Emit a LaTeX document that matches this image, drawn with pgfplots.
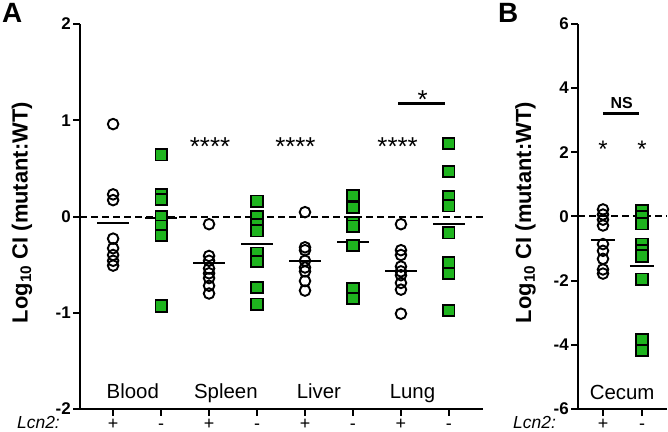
\documentclass[border=0pt]{standalone}
\usepackage{fontspec}
\setmainfont{Liberation Sans}
\usepackage{pgfplots}
\pgfplotsset{compat=1.18}
\definecolor{sqgreen}{RGB}{30,180,30}
\pgfplotsset{
  myaxis/.style={
    scale only axis, anchor=south west, clip=false,
    axis lines=left, axis line style={-, line width=2bp, black},
    tick align=outside, major tick length=7bp,
    tick style={line width=2bp, black},
    yticklabel style={font=\bfseries\fontsize{17}{17}\selectfont, inner xsep=2bp, inner ysep=0pt},
    xticklabel style={font=\fontsize{18}{18}\selectfont, anchor=base, yshift=-13bp},
    ylabel style={font=\bfseries\fontsize{22}{22}\selectfont, anchor=center},
  },
  circ/.style={only marks, mark=o, mark size=5.3bp, mark options={line width=1.9bp, black}},
  sq/.style={only marks, mark=square*, mark size=5.6bp, mark options={line width=1.9bp, draw=black, fill=sqgreen}},
  mean/.style={black, line width=2bp, no marks},
  zline/.style={black, line width=2bp, dash pattern=on 7bp off 4bp, no marks},
}
\begin{document}
\begin{tikzpicture}
\useasboundingbox (0,0) rectangle (668bp,432bp);
% ---------------- Panel A
\begin{axis}[myaxis, at={(80bp,23bp)}, width=403bp, height=385bp,
  xmin=-0.69, xmax=7.71, ymin=-2, ymax=2,
  xtick={0,1,2,3,4,5,6,7}, xticklabels={+,-,+,-,+,-,+,-},
  ytick={-2,-1,0,1,2}, yticklabels={-2,-1,0,1,2},
  ylabel={Log\textsubscript{10} CI (mutant:WT)},
  ylabel style={at={(axis description cs:-0.144,0.51)}},
]
\addplot[zline] coordinates {(-0.69,0) (7.71,0)};
% Lcn2 + (circles)
\addplot[circ] coordinates {
 (0,0.96) (0,0.23) (0,0.17) (0,-0.23) (0,-0.33) (0,-0.40) (0,-0.46) (0,-0.51)
 (2,-0.08) (2,-0.41) (2,-0.46) (2,-0.54) (2,-0.59) (2,-0.64) (2,-0.72) (2,-0.80)
 (4,0.045) (4,-0.32) (4,-0.35) (4,-0.46) (4,-0.53) (4,-0.57) (4,-0.67) (4,-0.77)
 (6,-0.08) (6,-0.35) (6,-0.40) (6,-0.52) (6,-0.57) (6,-0.61) (6,-0.69) (6,-0.76) (6,-1.01)
};
% Lcn2 - (squares)
\addplot[sq] coordinates {
 (1,0.64) (1,0.23) (1,0.18) (1,0.0) (1,-0.10) (1,-0.20) (1,-0.93)
 (3,0.16) (3,0.0) (3,-0.08) (3,-0.15) (3,-0.38) (3,-0.47) (3,-0.74) (3,-0.91)
 (5,0.22) (5,0.09) (5,-0.06) (5,-0.10) (5,-0.30) (5,-0.75) (5,-0.85)
 (7,0.76) (7,0.47) (7,0.21) (7,0.11) (7,-0.17) (7,-0.48) (7,-0.59) (7,-0.98)
};
% means
\addplot[mean] coordinates {(-0.33,-0.07) (0.33,-0.07)};
\addplot[mean] coordinates {(0.67,-0.02) (1.33,-0.02)};
\addplot[mean] coordinates {(1.67,-0.48) (2.33,-0.48)};
\addplot[mean] coordinates {(2.67,-0.29) (3.33,-0.29)};
\addplot[mean] coordinates {(3.67,-0.46) (4.33,-0.46)};
\addplot[mean] coordinates {(4.67,-0.27) (5.33,-0.27)};
\addplot[mean] coordinates {(5.67,-0.57) (6.33,-0.57)};
\addplot[mean] coordinates {(6.67,-0.08) (7.33,-0.08)};
% significance bar
\addplot[black, line width=3bp, no marks] coordinates {(5.94,1.17) (6.92,1.17)};
\node[font=\fontsize{26}{26}\selectfont, anchor=base, inner sep=0] at (axis cs:6.45,1.12) {*};
\node[font=\fontsize{26}{26}\selectfont, anchor=base, inner sep=0] at (axis cs:2.02,0.63) {****};
\node[font=\fontsize{26}{26}\selectfont, anchor=base, inner sep=0] at (axis cs:3.80,0.63) {****};
\node[font=\fontsize{26}{26}\selectfont, anchor=base, inner sep=0] at (axis cs:5.93,0.63) {****};
% categories
\node[font=\fontsize{20.5}{20}\selectfont, anchor=base, inner sep=0] at (axis cs:0.41,-1.896) {Blood};
\node[font=\fontsize{20.5}{20}\selectfont, anchor=base, inner sep=0] at (axis cs:2.35,-1.896) {Spleen};
\node[font=\fontsize{20.5}{20}\selectfont, anchor=base, inner sep=0] at (axis cs:4.29,-1.896) {Liver};
\node[font=\fontsize{20.5}{20}\selectfont, anchor=base, inner sep=0] at (axis cs:6.24,-1.896) {Lung};
\end{axis}
% ---------------- Panel B
\begin{axis}[myaxis, at={(578bp,23bp)}, width=89bp, height=385bp,
  xmin=-0.64, xmax=1.64, ymin=-6, ymax=6,
  xtick={0,1}, xticklabels={+,-},
  ytick={-6,-4,-2,0,2,4,6}, yticklabels={-6,-4,-2,0,2,4,6},
  ylabel={Log\textsubscript{10} CI (mutant:WT)},
  ylabel style={at={(axis description cs:-0.589,0.51)}},
]
\addplot[zline] coordinates {(-0.64,0) (1.64,0)};
\addplot[circ] coordinates {
 (0,0.22) (0,0.06) (0,-0.10) (0,-0.28) (0,-0.86) (0,-1.07) (0,-1.32) (0,-1.65) (0,-1.78)
};
\addplot[sq] coordinates {
 (1,0.19) (1,0.0) (1,-0.23) (1,-0.86) (1,-1.05) (1,-1.23) (1,-1.95) (1,-3.85) (1,-4.17)
};
\addplot[mean] coordinates {(-0.31,-0.73) (0.31,-0.73)};
\addplot[mean] coordinates {(0.69,-1.55) (1.31,-1.55)};
\addplot[black, line width=2.5bp, no marks] coordinates {(0.0,3.21) (0.93,3.21)};
\node[font=\bfseries\fontsize{16}{16}\selectfont, anchor=base, inner sep=0] at (axis cs:0.48,3.38) {NS};
\node[font=\fontsize{24}{24}\selectfont, anchor=base, inner sep=0] at (axis cs:0,1.85) {*};
\node[font=\fontsize{24}{24}\selectfont, anchor=base, inner sep=0] at (axis cs:1,1.85) {*};
\node[font=\fontsize{20.5}{20}\selectfont, anchor=base, inner sep=0] at (axis cs:0.49,-5.7) {Cecum};
\end{axis}
% outer labels
\node[font=\itshape\fontsize{17.5}{18}\selectfont, anchor=base west, inner sep=0] at (17bp,3.5bp) {Lcn2:};
\node[font=\itshape\fontsize{17.5}{18}\selectfont, anchor=base west, inner sep=0] at (513bp,3.5bp) {Lcn2:};
\node[font=\bfseries\fontsize{28}{28}\selectfont, anchor=base west, inner sep=0] at (2bp,409bp) {A};
\node[font=\bfseries\fontsize{28}{28}\selectfont, anchor=base west, inner sep=0] at (498bp,409bp) {B};
\end{tikzpicture}
\end{document}
